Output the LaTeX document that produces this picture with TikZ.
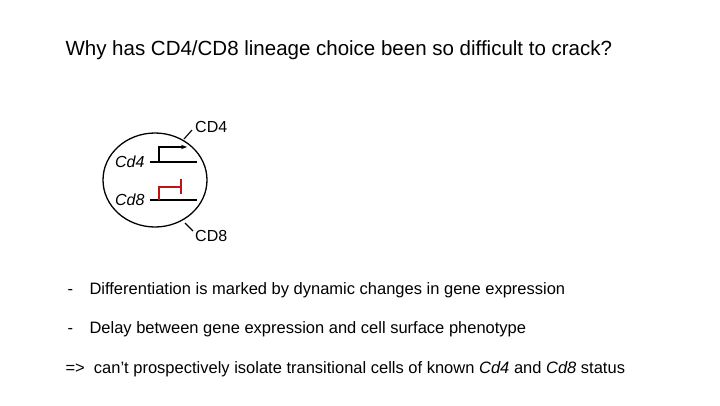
\documentclass[tikz,border=0pt]{standalone}
\usepackage{fontspec}
\setmainfont{Liberation Sans}
\usetikzlibrary{arrows.meta}
\definecolor{repred}{RGB}{190,20,20}
\tikzset{
  gene line/.style={line width=1.4pt},
  bullet text/.style={anchor=base west, font=\fontsize{16.5}{20}\selectfont},
  cell label/.style={font=\fontsize{16}{19}\selectfont},
}
\begin{document}
\begin{tikzpicture}[x=1pt,y=-1pt]
  \useasboundingbox (0,0) rectangle (720,405);
  \node [anchor=west, font=\fontsize{20.5}{24}\selectfont] (title) at (62,50) {Why has CD4/CD8 lineage choice been so difficult to crack?};
  % cell
  \draw [line width=1.3pt] (155,180) ellipse [x radius=52, y radius=47];
  \coordinate (c4a) at (150,162);
  \coordinate (c4b) at (197,162);
  \coordinate (c8a) at (150,200);
  \coordinate (c8b) at (197,200);
  \draw [gene line] (c4a) -- (c4b);
  \draw [gene line] (c8a) -- (c8b);
  \draw [gene line, -{Stealth[length=6pt]}] (159,162) -- (159,147) -- (187,147);
  \draw [gene line, draw=repred] (159,200) -- (159,187) -- (181,187);
  \draw [gene line, draw=repred] (181,179) -- (181,194);
  \node [cell label, anchor=east, font=\fontsize{16}{19}\selectfont\itshape] (cd4g) at (148,162) {Cd4};
  \node [cell label, anchor=east, font=\fontsize{16}{19}\selectfont\itshape] (cd8g) at (148,200) {Cd8};
  % surface markers
  \node [cell label, anchor=west, inner sep=1pt] (cd4p) at (194,127) {CD4};
  \node [cell label, anchor=west, inner sep=1pt] (cd8p) at (194,236) {CD8};
  \coordinate (t4) at (192,130);
  \coordinate (t8) at (193,231);
  \draw [line width=1.1pt] (184,139) -- (t4);
  \draw [line width=1.1pt] (185,223) -- (t8);
  % bullets
  \node [bullet text] (d1) at (64,294) {-};
  \node [bullet text] (t1) at (86,294) {Differentiation is marked by dynamic changes in gene expression};
  \node [bullet text] (d2) at (64,333) {-};
  \node [bullet text] (t2) at (86,333) {Delay between gene expression and cell surface phenotype};
  \node [bullet text] (t3) at (62,373) {=>\ \ can’t prospectively isolate transitional cells of known \textit{Cd4} and \textit{Cd8} status};
\end{tikzpicture}
\end{document}
